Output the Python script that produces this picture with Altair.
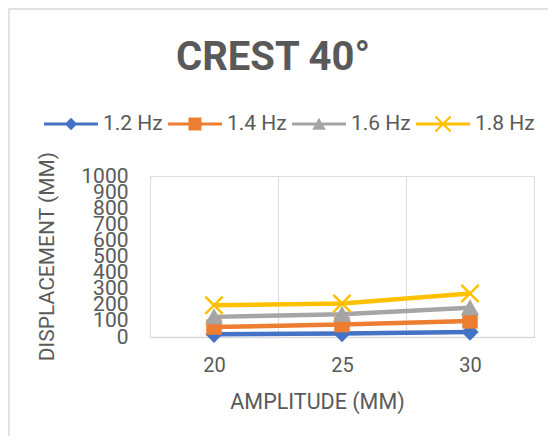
import altair as alt
import pandas as pd

amplitudes = ["20", "25", "30"]
series = ["1.2 Hz", "1.4 Hz", "1.6 Hz", "1.8 Hz"]
hz12 = [17, 21, 31]
hz14 = [62, 77, 100]
hz16 = [125, 141, 181]
hz18 = [197, 208, 270]
y_ticks = list(range(0, 1001, 100))

colors = ["#4472C4", "#ED7D31", "#A5A5A5", "#FFC000"]
TXT = "#595959"
FONT = "Roboto, Liberation Sans, sans-serif"

rows = []
for s, vals in zip(series, [hz12, hz14, hz16, hz18]):
    for a, v in zip(amplitudes, vals):
        rows.append({"series": s, "amp": a, "value": v})
df = pd.DataFrame(rows)

# legend symbols: line segment + marker (unit = 27 px for symbolSize 2916)
line_p = "M-1,-0.056H1V0.056H-1Z"
leg_paths = [
    line_p + "M0,-0.23L0.23,0L0,0.23L-0.23,0Z",
    line_p + "M-0.24,-0.24H0.24V0.24H-0.24Z",
    line_p + "M0,-0.23L0.25,0.21L-0.25,0.21Z",
    line_p + "M-0.252,-0.308L0.308,0.252L0.252,0.308L-0.308,-0.252Z"
           + "M-0.252,0.308L-0.308,0.252L0.252,-0.308L0.308,-0.252Z",
]

# chart markers
mk = [
    dict(shape="M0,-1L1,0L0,1L-1,0Z", filled=True, size=300),
    dict(shape="M-1,-1H1V1H-1Z", filled=True, size=240),
    dict(shape="M0,-1L1.05,0.85L-1.05,0.85Z", filled=True, size=300),
    dict(shape="M-1,-1L1,1M-1,1L1,-1", filled=False, size=300, strokeWidth=2.5),
]

x_enc = alt.X(
    "amp:O",
    scale=alt.Scale(type="band", paddingInner=0, paddingOuter=0),
    axis=alt.Axis(
        title="AMPLITUDE (MM)", grid=True, tickBand="extent", ticks=False,
        tickSize=0, gridColor="#d9d9d9", gridWidth=1, domainColor="#d9d9d9",
        domainWidth=1.5, labelAngle=0, labelFont=FONT, labelFontSize=20,
        labelColor=TXT, labelPadding=18, titleFont=FONT, titleFontSize=21.5,
        titleFontWeight="normal", titleColor=TXT, titleX=167, titleY=71,
        titleBaseline="alphabetic", titleAlign="center",
    ),
)
y_enc = alt.Y(
    "value:Q",
    scale=alt.Scale(domain=[0, 1000], nice=False),
    axis=alt.Axis(
        title="DISPLACEMENT (MM)", values=y_ticks, format="d", grid=False,
        ticks=False, tickSize=0, labelOverlap=False, labelFlush=False,
        domainColor="#d9d9d9", domainWidth=1, labelFont=FONT, labelFontSize=21,
        labelColor=TXT, labelPadding=22, titleFont=FONT, titleFontSize=21,
        titleFontWeight="normal", titleColor=TXT, titleX=-103, titleY=80,
        titleAngle=270, titleBaseline="middle", titleAlign="center",
    ),
)

base = alt.Chart(df)
layers = []
frame = alt.Chart(alt.Data(values=[{"k": 1}])).mark_rect(
    fill="transparent", stroke="#d9d9d9", strokeWidth=1.5
).encode(
    x=alt.value(-141), y=alt.value(-167), x2=alt.value(700), y2=alt.value(700)
)
layers.append(frame)
for s, c, m in zip(series, colors, mk):
    sub = base.transform_filter(alt.datum.series == s)
    layers.append(sub.mark_line(color=c, strokeWidth=4.5).encode(x=x_enc, y=y_enc))
    layers.append(sub.mark_point(color=c, opacity=1, **m).encode(x=x_enc, y=y_enc))

legend = alt.Legend(
    title=None, orient="none", direction="horizontal", legendX=-106,
    legendY=-79, symbolSize=2916, symbolStrokeWidth=0, labelFont=FONT,
    labelFontSize=21, labelColor=TXT, labelOffset=5, columnPadding=5,
    padding=0, labelLimit=200,
)
leg_layer = base.transform_filter("datum.value < -1").mark_point(
    filled=True, opacity=1
).encode(
    color=alt.Color("series:N", scale=alt.Scale(domain=series, range=colors), legend=legend),
    shape=alt.Shape("series:N", scale=alt.Scale(domain=series, range=leg_paths), legend=legend),
)
layers.append(leg_layer)

chart = alt.layer(*layers).properties(
    width=384, height=161,
    title=alt.TitleParams(
        "CREST 40°", font=FONT, fontSize=40, fontWeight="bold", color=TXT,
        anchor="middle", dx=-69, offset=0, dy=102, baseline="alphabetic",
    ),
    autosize=alt.AutoSizeParams(type="none"),
    padding={"left": 142, "top": 168, "right": 14, "bottom": 99},
).configure_view(
    stroke="#8faadc", strokeDash=[2, 1], strokeWidth=1
).configure(background="white")

chart.save("out.html", embed_options={"renderer": "svg", "actions": False})
